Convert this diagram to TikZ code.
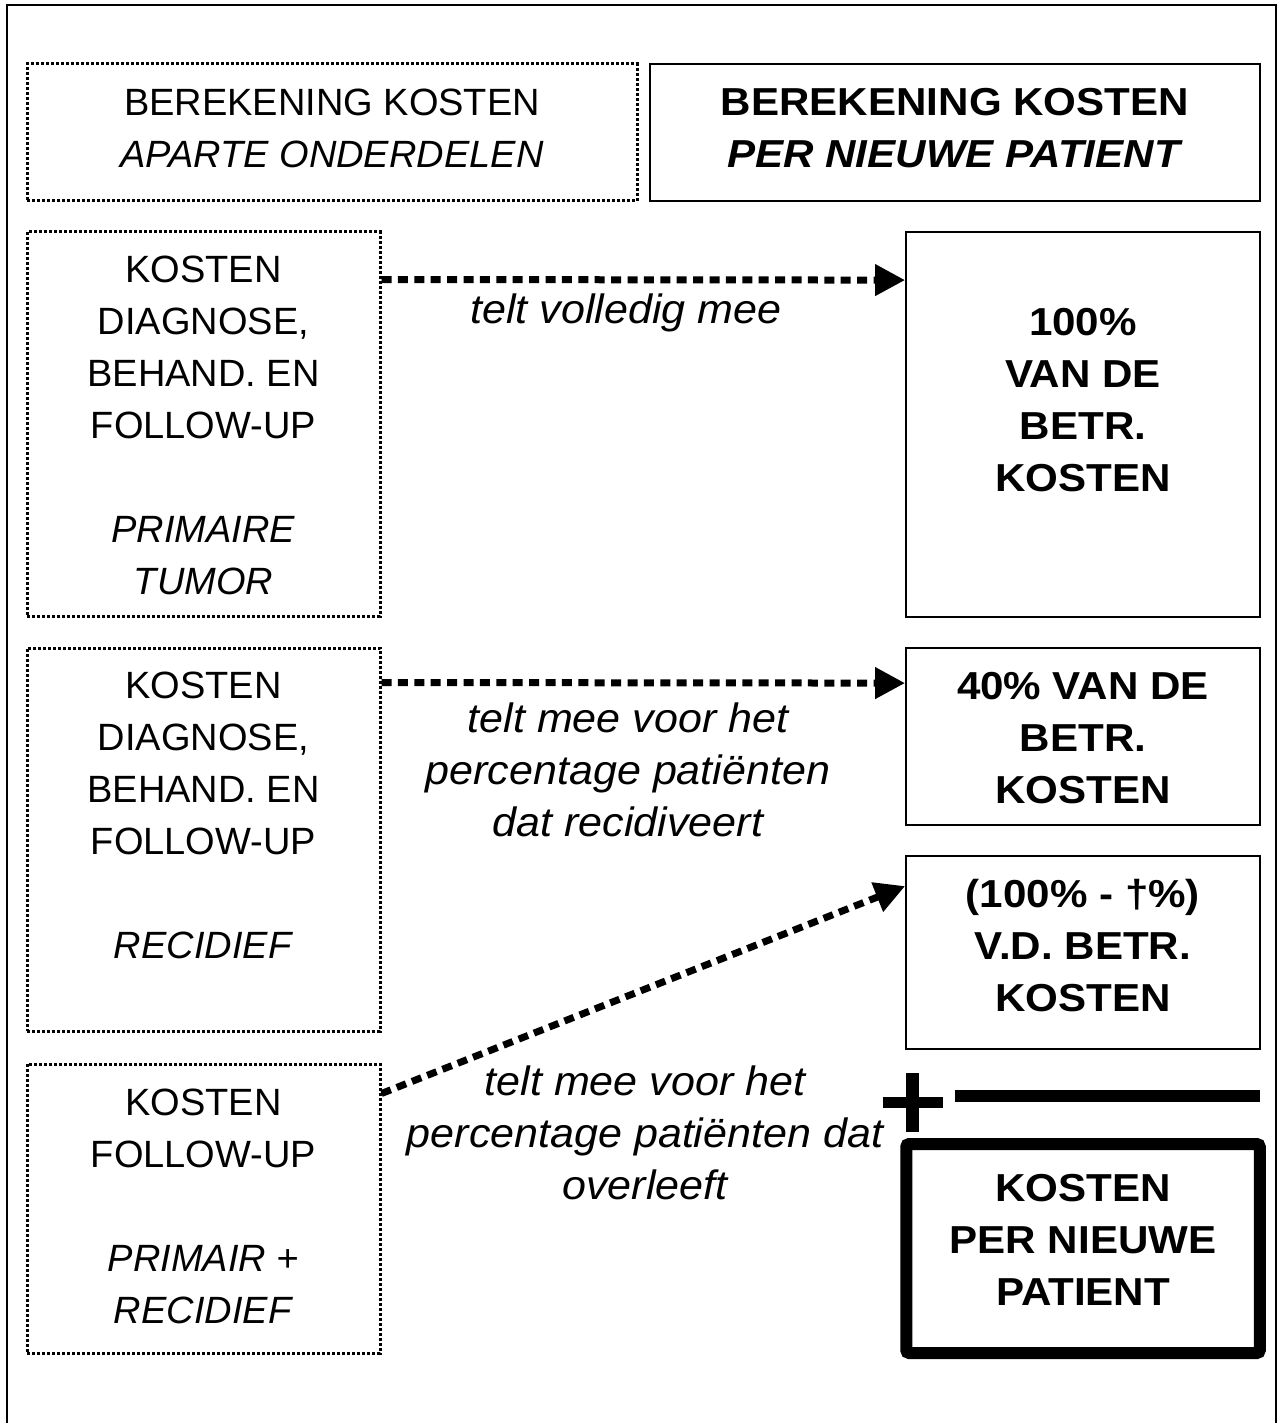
\documentclass[tikz,border=0pt]{standalone}
\usepackage{fontspec}
\setmainfont{Liberation Sans}
\newfontfamily\widebold[FakeStretch=1.08]{Liberation Sans}
\newfontfamily\wideit[FakeStretch=1.05]{Liberation Sans}
\usetikzlibrary{arrows.meta}
\tikzset{
  dotbox/.style={draw, line width=1.5pt, dash pattern=on 1.5pt off 1pt, minimum width=176.5pt, inner sep=0pt},
  solbox/.style={draw, line width=0.9pt, minimum width=177pt, inner sep=0pt},
  txt/.style={align=center, font=\fontsize{19}{26}\selectfont, inner sep=0pt},
  btxt/.style={align=center, font=\widebold\fontsize{19.5}{26}\selectfont\bfseries, inner sep=0pt},
  itxt/.style={align=center, font=\wideit\fontsize{20.5}{26}\selectfont\itshape, inner sep=0pt},
  arr/.style={line width=3.5pt, dash pattern=on 5pt off 3.2pt, -{Triangle[length=15pt,width=15pt]}},
}
\begin{document}
\begin{tikzpicture}[x=0.5pt,y=-0.5pt]
\useasboundingbox (0,0) rectangle (1281,1423);
% outer frame
\draw[line width=1pt] (7,1423) -- (7,5) -- (1276,5) -- (1276,1423);

% header boxes
\node[dotbox, minimum width=305pt, minimum height=68.5pt] (a) at (332,132.5) {};
\node[txt] (at) at (332,128) {BEREKENING KOSTEN\\\textit{APARTE ONDERDELEN}};
\node[solbox, minimum width=305pt, minimum height=68.5pt] (b) at (955,132.5) {};
\node[btxt] (bt) at (955,128) {BEREKENING KOSTEN\\\textit{PER NIEUWE PATIENT}};

% left boxes
\node[dotbox, minimum height=192pt] (c) at (203.5,424) {};
\node[txt] (ct) at (203.5,425) {KOSTEN\\DIAGNOSE,\\BEHAND. EN\\FOLLOW-UP\\[26pt]\textit{PRIMAIRE}\\\textit{TUMOR}};
\node[dotbox, minimum height=191.5pt] (e) at (203.5,839.5) {};
\node[txt] (et) at (203.5,815.5) {KOSTEN\\DIAGNOSE,\\BEHAND. EN\\FOLLOW-UP\\[26pt]\textit{RECIDIEF}};
\node[dotbox, minimum height=144.5pt] (h) at (203.5,1208.5) {};
\node[txt] (ht) at (203.5,1206) {KOSTEN\\FOLLOW-UP\\[26pt]\textit{PRIMAIR +}\\\textit{RECIDIEF}};

% right boxes
\node[solbox, minimum height=192.5pt] (d) at (1083,424.5) {};
\node[btxt] (dt) at (1083,400.5) {100\%\\VAN DE\\BETR.\\KOSTEN};
\node[solbox, minimum height=88.5pt] (f) at (1083,736.5) {};
\node[btxt] (ft) at (1083,738) {40\% VAN DE\\BETR.\\KOSTEN};
\node[solbox, minimum height=96.5pt] (g) at (1083,952.5) {};
\node[btxt] (gt) at (1083,946) {(100\% - †\%)\\V.D. BETR.\\KOSTEN};
\node[draw, line width=6pt, rounded corners=1.5pt, minimum width=176.75pt, minimum height=104.5pt, inner sep=0pt] (i) at (1083,1248.5) {};
\node[btxt] (it) at (1083,1239.5) {KOSTEN\\PER NIEUWE\\PATIENT};

% plus and sum line
\coordinate (pl) at (883,1102);
\coordinate (pr) at (943,1102);
\coordinate (pt) at (912,1073);
\coordinate (pb) at (912,1132);
\draw[line width=5.5pt] (pl) -- (pr);
\draw[line width=6.5pt] (pt) -- (pb);
\coordinate (sl) at (955,1096);
\coordinate (sr) at (1260,1096);
\draw[line width=6.25pt] (sl) -- (sr);

% arrows
\draw[arr] ([yshift=-24.5pt]c.north east) -- ([yshift=-24.5pt]d.north west);
\draw[arr] ([yshift=-18pt]e.north east) -- ([yshift=-18pt]f.north west);
\draw[arr] ([yshift=-15.5pt]h.north east) -- ([yshift=-15.5pt]g.north west);

% labels
\node[itxt] (l1) at (626,313) {telt volledig mee};
\node[itxt] (l2) at (628,770) {telt mee voor het\\percentage patiënten\\dat recidiveert};
\node[itxt] (l3) at (645,1132.5) {telt mee voor het\\percentage patiënten dat\\overleeft};
\end{tikzpicture}
\end{document}
